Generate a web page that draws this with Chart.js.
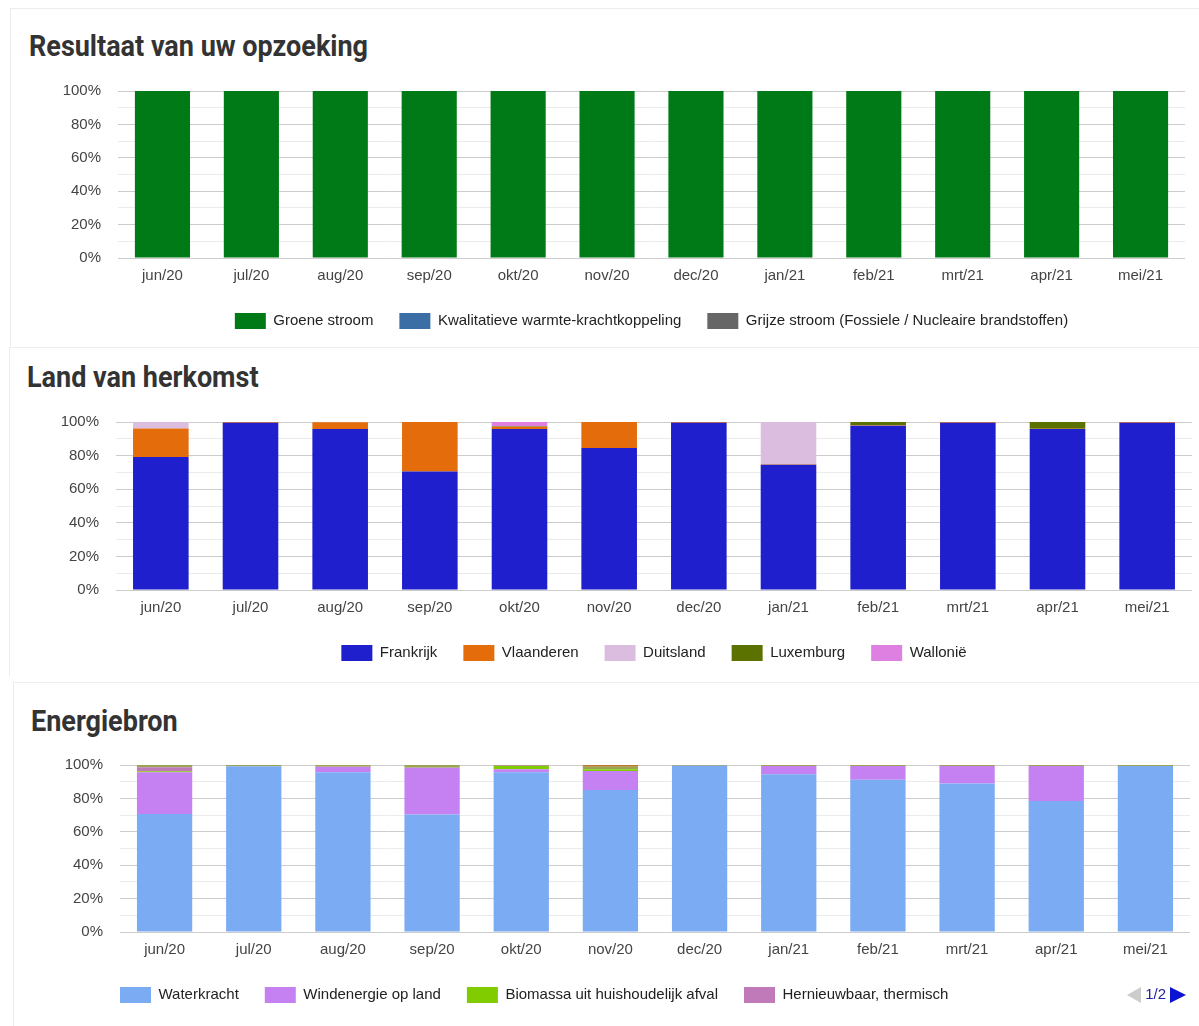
<!DOCTYPE html>
<html>
<head>
<meta charset="utf-8">
<script src="https://cdn.jsdelivr.net/npm/chart.js@4"></script>
<style>
  body { margin: 0; background: #fff; font-family: "Liberation Sans", Arial, sans-serif; }
  .panel { position: absolute; border-top: 1px solid #ececec; border-left: 1px solid #ececec; }
  .title { position: absolute; font-family: Roboto, sans-serif; font-weight: 700; color: #333; font-size: 30px;
           white-space: nowrap; transform-origin: 0 0; transform: scaleX(0.9); line-height: 1; }
  .chartbox { position: absolute; left: 0; width: 1199px; }
  .pager { position: absolute; left: 1127px; top: 985px; height: 18px; font-size: 15px; color: #22229a; }
  .tri { display: inline-block; width: 0; height: 0; border-top: 8px solid transparent; border-bottom: 8px solid transparent; vertical-align: middle; }
</style>
</head>
<body>
<div class="panel" style="left:10px;top:8px;width:1189px;height:337px"></div>
<div class="panel" style="left:9px;top:347px;width:1190px;height:328px"></div>
<div class="panel" style="left:13px;top:682px;width:1186px;height:344px"></div>

<div class="title" style="left:29px;top:31px">Resultaat van uw opzoeking</div>
<div class="title" style="left:27px;top:362px">Land van herkomst</div>
<div class="title" style="left:31px;top:706px">Energiebron</div>

<div class="chartbox" style="top:65px;height:281px"><canvas id="c1"></canvas></div>
<div class="chartbox" style="top:396px;height:282px"><canvas id="c2"></canvas></div>
<div class="chartbox" style="top:739px;height:281px"><canvas id="c3"></canvas></div>

<div class="pager"><span class="tri" style="border-right:14px solid #cccccc"></span> 1/2 <span class="tri" style="border-left:16px solid #0a14d2"></span></div>

<script>
const months = ["jun/20", "jul/20", "aug/20", "sep/20", "okt/20", "nov/20", "dec/20", "jan/21", "feb/21", "mrt/21", "apr/21", "mei/21"];

// Resultaat van uw opzoeking
const groeneStroom = [100, 100, 100, 100, 100, 100, 100, 100, 100, 100, 100, 100];
const warmteKracht = [0, 0, 0, 0, 0, 0, 0, 0, 0, 0, 0, 0];
const grijzeStroom = [0, 0, 0, 0, 0, 0, 0, 0, 0, 0, 0, 0];

// Land van herkomst
const frankrijk  = [79.1, 99.6, 95.8, 70.5, 95.8, 84.5, 99.6, 74.5, 97.8, 99.6, 95.8, 99.6];
const vlaanderen = [17.1, 0.4, 4.0, 29.5, 1.3, 15.5, 0.4, 0.3, 0.2, 0.4, 0.2, 0.4];
const duitsland  = [3.8, 0, 0.2, 0, 0, 0, 0, 25.2, 0, 0, 0, 0];
const luxemburg  = [0, 0, 0, 0, 0.4, 0, 0, 0, 2.0, 0, 4.0, 0];
const wallonie   = [0, 0, 0, 0, 2.5, 0, 0, 0, 0, 0, 0, 0];

// Energiebron (legend page 1 + series from page 2)
const waterkracht = [70.7, 99.3, 95.6, 70.3, 95.6, 85.0, 99.6, 94.5, 91.1, 88.9, 78.4, 99.4];
const windenergie = [24.9, 0, 3.4, 28.1, 1.9, 11.4, 0, 4.9, 8.3, 10.5, 21.0, 0];
const biomassa    = [0.6, 0, 0, 0, 2.0, 1.0, 0, 0, 0, 0, 0, 0];
const thermisch   = [2.5, 0, 0, 0, 0.5, 0, 0, 0, 0, 0, 0, 0];
const overige     = [1.3, 0.7, 1.0, 1.6, 0, 1.6, 0.4, 0.6, 0.6, 0.6, 0.6, 0.6];
const overige2    = [0, 0, 0, 0, 0, 1.0, 0, 0, 0, 0, 0, 0];

const yTicks = [0, 20, 40, 60, 80, 100];

// move the legend so it lines up like the original
const legendShift = {
  id: "legendShift",
  afterLayout(chart, args, opts) {
    const lg = chart.legend;
    const area = chart.chartArea;
    if (opts.startX != null) {
      lg.left = opts.startX - lg.options.labels.padding;
    } else {
      lg.left = area.left;
      lg.right = area.right;
    }
    lg.top -= 7;
    lg.bottom -= 7;
  }
};

function ds(label, data, color) {
  return { label: label, data: data, backgroundColor: color, borderWidth: 0, barPercentage: 0.62, categoryPercentage: 1 };
}

function makeChart(id, datasets, plotLeft, plotRight, legendCfg) {
  return new Chart(document.getElementById(id), {
    type: "bar",
    data: { labels: months, datasets: datasets },
    plugins: [legendShift],
    options: {
      responsive: true,
      maintainAspectRatio: false,
      animation: false,
      layout: { padding: { top: 12, right: 1199 - plotRight, left: 0, bottom: 0 } },
      scales: {
        x: {
          stacked: true,
          grid: { display: false, drawTicks: false },
          border: { display: false },
          ticks: { color: "#444", font: { family: "Liberation Sans", size: 15 }, padding: 9, maxRotation: 0 }
        },
        y: {
          stacked: true,
          min: 0,
          max: 100,
          afterFit: (scale) => { scale.width = plotLeft; },
          border: { display: false },
          grid: {
            drawTicks: false,
            color: (c) => (yTicks.includes(c.tick.value) ? "#cccccc" : "#ebebeb")
          },
          ticks: {
            stepSize: 10,
            autoSkip: false,
            padding: 17,
            color: "#444",
            font: { family: "Liberation Sans", size: 15 },
            callback: (v) => (yTicks.includes(v) ? v + "%" : "")
          }
        }
      },
      plugins: {
        tooltip: { enabled: false },
        legendShift: legendCfg.shift || {},
        legend: {
          position: "bottom",
          align: legendCfg.align || "center",
          labels: {
            boxWidth: 31,
            boxHeight: 16,
            padding: 26,
            color: "#222",
            font: { family: "Liberation Sans", size: 15 },
            filter: legendCfg.filter
          }
        }
      }
    }
  });
}

makeChart("c1", [
  ds("Groene stroom", groeneStroom, "#007a16"),
  ds("Kwalitatieve warmte-krachtkoppeling", warmteKracht, "#3a6ea5"),
  ds("Grijze stroom (Fossiele / Nucleaire brandstoffen)", grijzeStroom, "#666666")
], 118, 1185, {});

makeChart("c2", [
  ds("Frankrijk", frankrijk, "#201fcd"),
  ds("Vlaanderen", vlaanderen, "#e46c0b"),
  ds("Duitsland", duitsland, "#dbbedf"),
  ds("Luxemburg", luxemburg, "#5b7100"),
  ds("Wallonië", wallonie, "#dd80e2")
], 116, 1192, {});

makeChart("c3", [
  ds("Waterkracht", waterkracht, "#7babf3"),
  ds("Windenergie op land", windenergie, "#c580f1"),
  ds("Biomassa uit huishoudelijk afval", biomassa, "#80cc00"),
  ds("Hernieuwbaar, thermisch", thermisch, "#c07ab9"),
  ds("Overige", overige, "#9aa452"),
  ds("Overige 2", overige2, "#b8782e")
], 120, 1190, {
  align: "start",
  shift: { startX: 120 },
  filter: (item) => item.datasetIndex < 4
});
</script>
</body>
</html>
